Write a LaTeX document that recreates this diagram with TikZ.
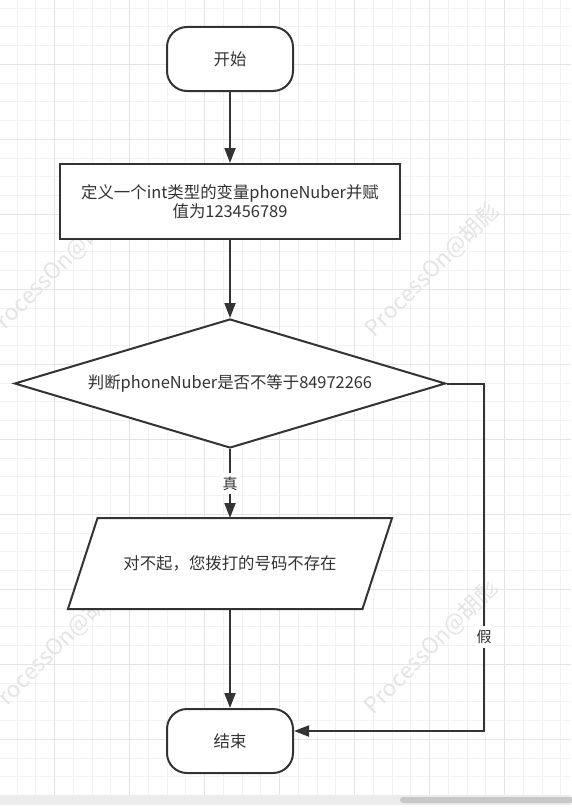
\documentclass[tikz,border=0pt]{standalone}
\usepackage{fontspec}
\setmainfont{Noto Sans CJK SC}
\usetikzlibrary{shapes.geometric,arrows.meta,calc}
\definecolor{linec}{HTML}{333333}
\definecolor{txtc}{HTML}{333333}
\definecolor{gridminor}{HTML}{F2F2F2}
\definecolor{gridmajor}{HTML}{E4E4E4}
\definecolor{wmark}{HTML}{E4E4E4}
\definecolor{barbg}{HTML}{ECECEC}
\definecolor{thumbc}{HTML}{C8C8C8}
\pgfdeclarelayer{bg}
\pgfdeclarelayer{mid}
\pgfsetlayers{bg,mid,main}
\begin{document}
\begin{tikzpicture}[x=1pt,y=-1pt,
  every node/.style={text=txtc,font=\fontsize{16.4}{19.5}\selectfont},
  shapeline/.style={draw=linec,line width=2pt,fill=white},
  term/.style={shapeline,rounded corners=20pt,minimum width=126pt,minimum height=64pt,inner sep=0pt},
  proc/.style={shapeline,minimum width=340pt,minimum height=75pt,align=center,inner sep=0pt},
  dec/.style={shapeline,diamond,aspect=3.34,minimum width=431pt,minimum height=129pt,inner sep=0pt},
  iobox/.style={minimum width=292.5pt,minimum height=89pt,inner sep=0pt,outer sep=1pt},
  flow/.style={draw=linec,line width=2pt,-{Triangle[length=15pt,width=11pt]}},
  lab/.style={fill=white,inner xsep=2pt,inner ysep=4pt,text=txtc,font=\fontsize{15}{18}\selectfont},
  wm/.style={text=wmark,font=\fontsize{22.5}{26}\selectfont,inner sep=0pt},
]
\useasboundingbox (0,0) rectangle (571,808);
\begin{pgfonlayer}{bg}
  \fill[white] (0,0) rectangle (571,808);
  \foreach \i in {0,...,31}
    \draw[gridminor,line width=1pt] ({-1.55+18.75*\i},0) -- ({-1.55+18.75*\i},795);
  \foreach \i in {0,...,42}
    \draw[gridminor,line width=1pt] (0,{8.05+18.75*\i}) -- (571,{8.05+18.75*\i});
  \foreach \i in {0,...,6}
    \draw[gridmajor,line width=1pt] ({54.7+75*\i},0) -- ({54.7+75*\i},795);
  \foreach \i in {0,...,9}
    \draw[gridmajor,line width=1pt] (0,{64.3+75*\i}) -- (571,{64.3+75*\i});
  \foreach \x/\y/\k in {432/270/1,431/647/2,53/272/3,55/648/4}
    \node[wm,rotate=45] (wm\k) at (\x,\y) {ProcessOn@胡彪};
  \fill[barbg] (0,795) rectangle (571,805);
  \fill[thumbc,rounded corners=3pt] (400,797) rectangle (578,803);
\end{pgfonlayer}

\node[term] (start) at (230,59) {开始};
\node[proc] (def) at (230,201.5) {定义一个int类型的变量phoneNuber并赋\\值为123456789};
\node[dec] (cond) at (230,383.5) {判断phoneNuber是否不等于84972266};
\node[iobox] (out) at (230,563.5) {对不起，您拨打的号码不存在};
\node[term] (end) at (230,741) {结束};
\begin{pgfonlayer}{mid}
  \draw[shapeline] ([xshift=14.8pt]out.north west) -- ([xshift=14.8pt]out.north east)
    -- ([xshift=-14.8pt]out.south east) -- ([xshift=-14.8pt]out.south west) -- cycle;
\end{pgfonlayer}

\coordinate (fx) at (484,0);
\coordinate (endin) at ([yshift=10pt]end.east);

\draw[flow] (start) -- (def);
\draw[flow] (def) -- (cond);
\draw[flow] (cond) -- node[lab] (ltrue) {真} (out);
\draw[flow] (out) -- (end);
\draw[flow] (cond.east) -- (cond.east -| fx) -- node[lab,pos=0.73] (lfalse) {假} (endin -| fx) -- (endin);
\end{tikzpicture}
\end{document}
